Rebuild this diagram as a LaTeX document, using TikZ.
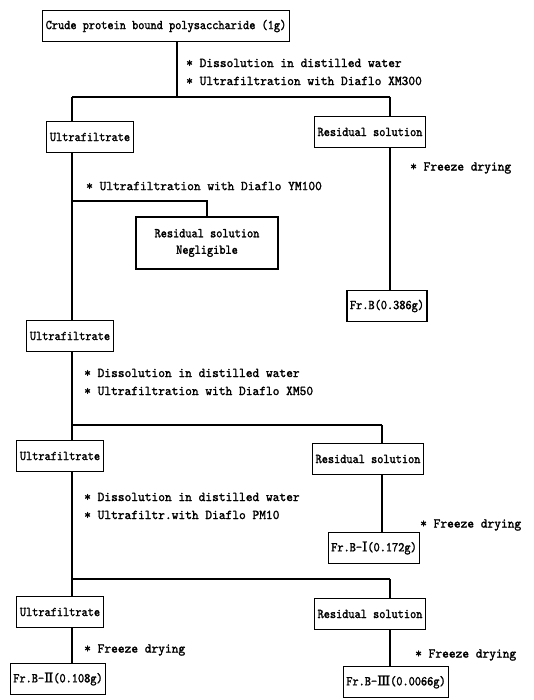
\documentclass[tikz,border=0pt]{standalone}
\usepackage{fontspec}
% condensed typewriter face for the boxes, slightly wider one for the step notes
\newfontfamily\boxfont{lmmono10-regular.otf}[FakeBold=1.6, FakeStretch=0.87]
\newfontfamily\notefont{lmmono10-regular.otf}[FakeBold=1.6, FakeStretch=0.95]
\newfontfamily\romnum{DejaVu Serif}[FakeBold=1.4]
\begin{document}
\begin{tikzpicture}[x=1pt,y=-1pt,
  box/.style={draw, line width=1.1pt, inner xsep=3pt, minimum height=31pt, align=center,
    font=\boxfont\fontsize{13.5}{16.5}\selectfont},
  note/.style={anchor=west, align=left, inner sep=0pt,
    font=\notefont\fontsize{13.5}{18}\selectfont},
  link/.style={line width=1.6pt}]
\useasboundingbox (0,0) rectangle (533,700);

% ---- starting material and first ultrafiltration (XM300)
\node[box] (crude) at (166,26) {Crude protein bound polysaccharide (1g)};
\node[note] (n1) at (186,72) {* Dissolution in distilled water\\* Ultrafiltration with Diaflo XM300};
\coordinate (s1) at (177,97);
\coordinate (a1) at (72,97);
\coordinate (b1) at (390,97);
\draw[link] (crude.south -| s1) -- (s1);
\draw[link] (a1) -- (b1);

\node[box] (uf1) at (90,137) {Ultrafiltrate};
\node[box] (res1) at (370,132) {Residual solution};
\draw[link] (a1) -- (uf1.north -| a1);
\draw[link] (b1) -- (res1.north -| b1);

% ---- freeze drying of the XM300 retentate
\node[note] (n2) at (410,168) {* Freeze drying};
\node[box] (frb) at (387,306) {Fr.B(0.386g)};
\draw[link] (res1.south -| b1) -- (frb.north -| b1);

% ---- YM100 step
\node[note] (n3) at (86,186) {* Ultrafiltration with Diaflo YM100};
\coordinate (a2) at (72,201);
\coordinate (b2) at (207,201);
\node[box, minimum height=52pt, minimum width=142pt] (neg) at (207,243) {Residual solution\\Negligible};
\draw[link] (a2) -- (b2) -- (neg.north -| b2);

\node[box] (uf2) at (70,336) {Ultrafiltrate};
\draw[link] (uf1.south -| a1) -- (uf2.north -| a1);

% ---- XM50 step
\node[note] (n4) at (84,382) {* Dissolution in distilled water\\* Ultrafiltration with Diaflo XM50};
\coordinate (a3) at (72,425);
\coordinate (b3) at (382,425);
\draw[link] (uf2.south -| a1) -- (a3);
\draw[link] (a3) -- (b3);

\node[box] (uf3) at (60,456) {Ultrafiltrate};
\node[box] (res2) at (368,459) {Residual solution};
\draw[link] (a3) -- (uf3.north -| a3);
\draw[link] (b3) -- (res2.north -| b3);

\node[note] (n5) at (420,525) {* Freeze drying};
\node[box] (frb1) at (374,548) {Fr.B-{\romnum Ⅰ}(0.172g)};
\draw[link] (res2.south -| b3) -- (frb1.north -| b3);

% ---- PM10 step
\node[note] (n6) at (84,506) {* Dissolution in distilled water\\* Ultrafiltr.with Diaflo PM10};
\coordinate (a4) at (72,579);
\coordinate (b4) at (390,579);
\draw[link] (uf3.south -| a3) -- (a4);
\draw[link] (a4) -- (b4);

\node[box] (uf4) at (60,612) {Ultrafiltrate};
\node[box] (res3) at (370,614) {Residual solution};
\draw[link] (a4) -- (uf4.north -| a4);
\draw[link] (b4) -- (res3.north -| b4);

% ---- final freeze drying
\node[note] (n7) at (84,650) {* Freeze drying};
\node[note] (n8) at (415,655) {* Freeze drying};
\node[box] (frb2) at (58,679) {Fr.B-{\romnum Ⅱ}(0.108g)};
\node[box] (frb3) at (396,682) {Fr.B-{\romnum Ⅲ}(0.0066g)};
\draw[link] (uf4.south -| a4) -- (frb2.north -| a4);
\draw[link] (res3.south -| b4) -- (frb3.north -| b4);
\end{tikzpicture}
\end{document}
